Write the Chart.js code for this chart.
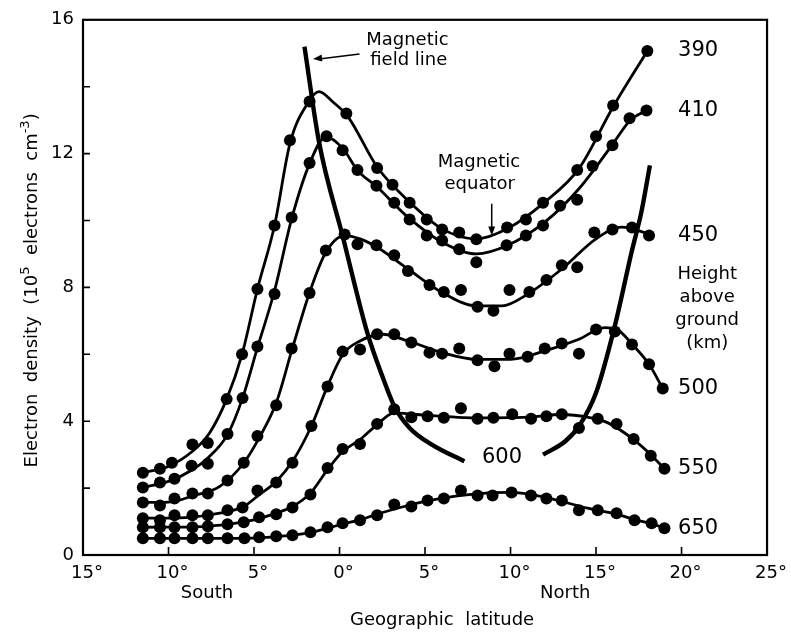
<!DOCTYPE html>
<html>
<head>
<meta charset="utf-8">
<script src="https://cdn.jsdelivr.net/npm/chart.js@4"></script>
<style>
  html, body { margin: 0; padding: 0; background: #fff; }
  canvas { display: block; }
</style>
</head>
<body>
<canvas id="chart" width="791" height="636" style="width:791px;height:636px"></canvas>
<script>
// Electron density along a satellite pass, per height above ground.
// Each entry is [geographic latitude (deg, south negative), density (1e5 electrons / cm^3)].

const heights = ['390', '410', '450', '500', '550', '650'];

const xTicks = [-15, -10, -5, 0, 5, 10, 15, 20, 25];
const xTickLabels = ['15°', '10°', '5°', '0°', '5°', '10°', '15°', '20°', '25°'];
const yTicks = [0, 4, 8, 12, 16];
const yTickLabels = ['0', '4', '8', '12', '16'];

// measured values
const dots390 = [[-11.5,2.46],[-10.5,2.58],[-9.8,2.76],[-8.6,3.3],[-7.7,3.35],[-6.6,4.66],[-5.7,6.0],[-4.8,7.95],[-3.8,9.85],[-2.9,12.4],[-1.75,13.56],[0.4,13.2],[2.2,11.57],[3.1,11.07],[4.1,10.53],[5.1,10.03],[6.0,9.73],[7.0,9.64],[8.0,9.44],[9.8,9.79],[10.9,10.03],[11.9,10.53],[13.9,11.51],[15.0,12.52],[16.0,13.44],[18.0,15.07]];
const dots410 = [[-11.5,2.02],[-10.5,2.17],[-9.65,2.28],[-8.65,2.67],[-7.7,2.73],[-6.55,3.62],[-5.67,4.69],[-4.8,6.23],[-3.8,7.8],[-2.8,10.09],[-1.75,11.72],[-0.76,12.52],[0.18,12.1],[1.05,11.51],[2.16,11.04],[3.2,10.53],[4.1,10.03],[5.1,9.55],[6.0,9.4],[7.0,9.14],[8.0,8.75],[9.77,9.26],[10.9,9.55],[11.9,9.85],[12.9,10.44],[13.9,10.62],[14.8,11.63],[15.96,12.25],[16.96,13.06],[17.95,13.29]];
const dots450 = [[-11.5,1.57],[-10.5,1.48],[-9.65,1.69],[-8.6,1.84],[-7.7,1.84],[-6.55,2.23],[-5.6,2.76],[-4.8,3.56],[-3.7,4.48],[-2.8,6.17],[-1.75,7.83],[-0.8,9.1],[0.3,9.58],[1.05,9.29],[2.16,9.26],[3.2,8.96],[4.0,8.49],[5.26,8.07],[6.1,7.86],[7.1,7.92],[8.07,7.42],[9.0,7.3],[9.94,7.92],[11.1,7.86],[12.1,8.22],[13.0,8.66],[13.9,8.6],[14.9,9.64],[15.96,9.73],[17.1,9.79],[18.1,9.55]];
const dots500 = [[-11.5,1.1],[-10.5,1.04],[-9.65,1.19],[-8.6,1.19],[-7.7,1.19],[-6.55,1.34],[-5.67,1.42],[-4.8,1.93],[-3.7,2.17],[-2.75,2.76],[-1.64,3.86],[-0.7,5.04],[0.18,6.08],[1.2,6.14],[2.2,6.6],[3.2,6.6],[4.2,6.35],[5.26,6.05],[6.0,6.02],[7.0,6.17],[8.07,5.82],[9.06,5.64],[9.94,6.02],[11.0,5.93],[12.0,6.17],[13.0,6.32],[14.0,6.02],[15.0,6.74],[16.1,6.68],[17.1,6.29],[18.1,5.7],[18.9,4.98]];
const dots550 = [[-11.5,0.83],[-10.5,0.83],[-9.65,0.83],[-8.6,0.83],[-7.7,0.86],[-6.55,0.92],[-5.6,0.98],[-4.7,1.13],[-3.7,1.22],[-2.75,1.42],[-1.7,1.81],[-0.7,2.6],[0.18,3.17],[1.2,3.32],[2.2,3.92],[3.2,4.36],[4.2,4.12],[5.15,4.15],[6.1,4.1],[7.1,4.39],[8.07,4.07],[9.0,4.1],[10.1,4.21],[11.2,4.07],[12.1,4.15],[13.0,4.21],[14.0,3.8],[15.1,4.07],[16.2,3.92],[17.2,3.47],[18.2,2.97],[19.0,2.58]];
const dots650 = [[-11.5,0.5],[-10.5,0.5],[-9.65,0.5],[-8.6,0.5],[-7.7,0.5],[-6.55,0.5],[-5.56,0.5],[-4.7,0.53],[-3.7,0.56],[-2.75,0.59],[-1.7,0.68],[-0.7,0.83],[0.18,0.95],[1.2,1.04],[2.2,1.19],[3.2,1.51],[4.2,1.45],[5.15,1.63],[6.1,1.69],[7.1,1.93],[8.07,1.78],[8.95,1.78],[10.06,1.87],[11.2,1.78],[12.1,1.69],[13.0,1.63],[14.0,1.34],[15.1,1.34],[16.2,1.25],[17.25,1.04],[18.25,0.95],[19.0,0.8]];

// smoothed profiles drawn through the measurements
const fit390 = [[-11.5,2.46],[-10,2.65],[-8.6,3.1],[-7.6,3.65],[-6.6,4.66],[-5.7,6.0],[-4.8,7.95],[-3.8,9.85],[-2.9,12.3],[-1.8,13.55],[-1.2,13.85],[-0.4,13.55],[0.5,13.1],[2.2,11.6],[4,10.6],[6,9.75],[8,9.45],[9.8,9.75],[12,10.55],[14,11.55],[16,13.4],[18,15.07]];
const fit410 = [[-11.5,2.02],[-10,2.2],[-8.6,2.55],[-7.7,2.9],[-6.55,3.6],[-5.67,4.69],[-4.8,6.2],[-3.8,7.9],[-2.8,10.05],[-1.75,11.7],[-0.8,12.5],[0.2,12.15],[1.05,11.5],[2.2,11.0],[4,10.1],[6,9.35],[8,9.0],[9.8,9.25],[12,9.95],[14,10.95],[16,12.3],[17,13.0],[18,13.3]];
const fit450 = [[-11.5,1.57],[-10,1.58],[-8.5,1.78],[-7,2.05],[-5.6,2.75],[-4.7,3.5],[-3.7,4.55],[-2.8,6.1],[-1.75,7.85],[-0.8,9.05],[0.3,9.55],[1.2,9.45],[2.2,9.2],[4,8.55],[6,7.85],[8,7.45],[9.5,7.45],[11,7.8],[13,8.55],[15,9.45],[16.5,9.8],[18.1,9.6]];
const fit500 = [[-11.5,1.1],[-9,1.12],[-7,1.25],[-5.6,1.45],[-4.7,1.8],[-3.7,2.2],[-2.75,2.8],[-1.65,3.85],[-0.7,5.05],[0.2,6.0],[1.2,6.4],[2.5,6.6],[4,6.4],[6,6.05],[8,5.85],[10,5.85],[12,6.1],[14,6.45],[15.5,6.8],[16.3,6.72],[17.2,6.25],[18.1,5.7],[18.9,4.98]];
const fit550 = [[-11.5,0.83],[-8,0.85],[-6.5,0.92],[-5,1.05],[-3.7,1.25],[-2.75,1.45],[-1.7,1.85],[-0.7,2.55],[0.2,3.1],[1.2,3.45],[2.2,3.9],[3.2,4.25],[4.5,4.2],[8,4.1],[11,4.12],[13,4.2],[14.5,4.12],[15.7,3.95],[17.2,3.45],[18.2,3.0],[19,2.58]];
const fit650 = [[-11.5,0.5],[-5.5,0.5],[-3.7,0.55],[-1.7,0.67],[-0.7,0.8],[0.2,0.93],[1.2,1.05],[2.2,1.22],[4,1.48],[6,1.7],[8,1.83],[10,1.87],[12,1.73],[13,1.6],[14.5,1.4],[16.2,1.22],[17.3,1.05],[18.3,0.93],[19,0.8]];

// magnetic field line through the 600 km level, southern and northern branches
const fieldLineSouth = [[-2.05,15.2],[-1.2,12.35],[0.2,9.5],[1.65,6.6],[2.5,5.35],[3.2,4.45],[4.1,3.8],[5.4,3.3],[7.3,2.8]];
const fieldLineNorth = [[11.9,3.0],[13.2,3.4],[14.0,3.85],[15.0,4.85],[16.1,6.85],[17.1,9.1],[17.65,10.25],[18.15,11.65]];
const fieldLineHeight = '600';

const dotSets = [dots390, dots410, dots450, dots500, dots550, dots650];
const fitSets = [fit390, fit410, fit450, fit500, fit550, fit650];

const FONT = '"DejaVu Sans", sans-serif';
const toXY = arr => arr.map(([lat, n]) => ({ x: lat, y: n }));

const datasets = [];
fitSets.forEach((f, i) => datasets.push({
  label: heights[i] + ' km profile',
  data: toXY(f),
  showLine: true,
  borderColor: '#000',
  borderWidth: 2.8,
  pointRadius: 0,
  cubicInterpolationMode: 'monotone',
  fill: false
}));
dotSets.forEach((d, i) => datasets.push({
  label: heights[i] + ' km',
  data: toXY(d),
  showLine: false,
  pointRadius: 6,
  pointBackgroundColor: '#000',
  pointBorderWidth: 0
}));
[fieldLineSouth, fieldLineNorth].forEach((f, i) => datasets.push({
  label: 'field line ' + i,
  data: toXY(f),
  showLine: true,
  borderColor: '#000',
  borderWidth: 4.4,
  borderCapStyle: 'butt',
  pointRadius: 0,
  cubicInterpolationMode: 'monotone',
  fill: false
}));

function arrowHead(ctx, x0, y0, x1, y1, len, half) {
  const ang = Math.atan2(y1 - y0, x1 - x0);
  ctx.beginPath();
  ctx.moveTo(x1, y1);
  ctx.lineTo(x1 - len * Math.cos(ang) + half * Math.sin(ang), y1 - len * Math.sin(ang) - half * Math.cos(ang));
  ctx.lineTo(x1 - len * Math.cos(ang) - half * Math.sin(ang), y1 - len * Math.sin(ang) + half * Math.cos(ang));
  ctx.closePath();
  ctx.fill();
}

const overlay = {
  id: 'overlay',
  afterDatasetsDraw(chart) {
    const { ctx, chartArea: a } = chart;
    const xs = chart.scales.x, ys = chart.scales.y;
    const X = v => xs.getPixelForValue(v);
    const Y = v => ys.getPixelForValue(v);
    ctx.save();
    ctx.strokeStyle = '#000';
    ctx.fillStyle = '#000';

    // frame
    ctx.lineWidth = 2.2;
    ctx.strokeRect(a.left, a.top, a.right - a.left, a.bottom - a.top);

    // inward tick marks
    ctx.lineWidth = 1.6;
    ctx.beginPath();
    xTicks.forEach(v => { ctx.moveTo(X(v), a.bottom); ctx.lineTo(X(v), a.bottom - 8); });
    for (let v = 2; v < 16; v += 2) { ctx.moveTo(a.left, Y(v)); ctx.lineTo(a.left + 7, Y(v)); }
    ctx.stroke();

    // height labels at the end of each profile
    ctx.font = '21px ' + FONT;
    ctx.textAlign = 'left';
    ctx.textBaseline = 'middle';
    dotSets.forEach((d, i) => {
      const last = d[d.length - 1];
      ctx.fillText(heights[i], X(19.8), Y(last[1]));
    });
    ctx.textAlign = 'center';
    ctx.fillText(fieldLineHeight, X(9.5), Y(2.9));

    ctx.font = '18px ' + FONT;
    ['Height', 'above', 'ground', '(km)'].forEach((t, i) => {
      ctx.fillText(t, X(21.5), Y(8.38) + i * 23);
    });

    // field line annotation
    ctx.fillText('Magnetic', X(3.97), Y(15.4));
    ctx.fillText('field line', X(4.05), Y(14.78));
    ctx.lineWidth = 1.5;
    let x0 = X(1.17), y0 = Y(14.98), x1 = X(-1.55), y1 = Y(14.83);
    ctx.beginPath(); ctx.moveTo(x0, y0); ctx.lineTo(x1 + 6, y1); ctx.stroke();
    arrowHead(ctx, x0, y0, x1, y1, 9, 3.5);

    // magnetic equator annotation
    ctx.fillText('Magnetic', X(8.15), Y(11.75));
    ctx.fillText('equator', X(8.2), Y(11.09));
    x0 = X(8.9); y0 = Y(10.5); y1 = Y(9.55);
    ctx.beginPath(); ctx.moveTo(x0, y0); ctx.lineTo(x0, y1 - 6); ctx.stroke();
    arrowHead(ctx, x0, y0, x0, y1, 9, 3.5);

    // axis captions
    ctx.fillText('South', X(-7.75), a.bottom + 38);
    ctx.fillText('North', X(13.2), a.bottom + 38);
    ctx.fillText('Geographic  latitude', X(6.0), a.bottom + 65);

    // y axis title with superscripts, read bottom to top
    const big = '18px ' + FONT, small = '13px ' + FONT;
    const parts = [
      ['Electron  density  (10', big, 0],
      ['5', small, -8],
      ['  electrons  cm', big, 0],
      ['-3', small, -8],
      [')', big, 0]
    ];
    let total = 0;
    parts.forEach(p => { ctx.font = p[1]; total += ctx.measureText(p[0]).width; });
    ctx.translate(37, (Y(0) + Y(16)) / 2 + 3);
    ctx.rotate(-Math.PI / 2);
    ctx.textAlign = 'left';
    ctx.textBaseline = 'alphabetic';
    let cx = -total / 2;
    parts.forEach(p => {
      ctx.font = p[1];
      ctx.fillText(p[0], cx, p[2]);
      cx += ctx.measureText(p[0]).width;
    });
    ctx.restore();
  }
};

new Chart(document.getElementById('chart'), {
  type: 'scatter',
  data: { datasets },
  options: {
    responsive: false,
    devicePixelRatio: 1,
    animation: false,
    layout: { padding: { top: 17, right: 23, left: 0, bottom: 0 } },
    plugins: { legend: { display: false }, tooltip: { enabled: false } },
    scales: {
      x: {
        type: 'linear',
        min: -15, max: 25,
        afterBuildTicks: s => { s.ticks = xTicks.map(v => ({ value: v })); },
        afterFit: s => { s.height = 81; },
        grid: { display: false, drawTicks: false },
        border: { display: false },
        ticks: {
          color: '#000',
          font: { family: FONT, size: 18 },
          padding: 8,
          labelOffset: 4,
          maxRotation: 0,
          autoSkip: false,
          callback: v => xTickLabels[xTicks.indexOf(v)]
        }
      },
      y: {
        type: 'linear',
        min: 0, max: 16,
        afterBuildTicks: s => { s.ticks = yTicks.map(v => ({ value: v })); },
        afterFit: s => { s.width = 83; },
        grid: { display: false, drawTicks: false },
        border: { display: false },
        ticks: {
          color: '#000',
          font: { family: FONT, size: 18 },
          padding: 9,
          autoSkip: false,
          callback: v => yTickLabels[yTicks.indexOf(v)]
        }
      }
    }
  },
  plugins: [overlay]
});
</script>
</body>
</html>
